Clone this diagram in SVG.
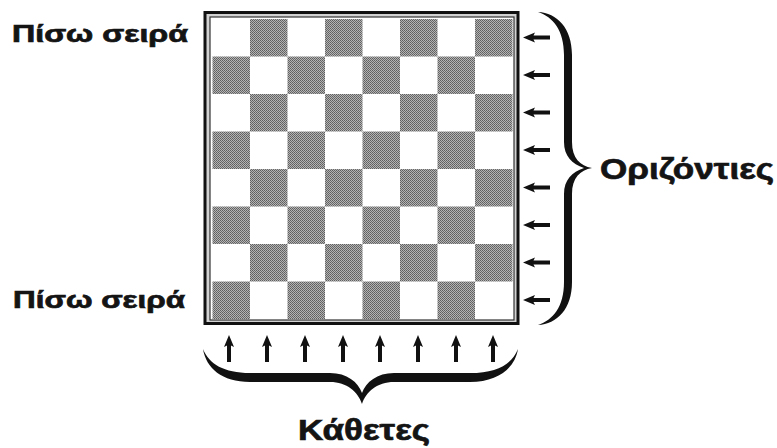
<svg xmlns="http://www.w3.org/2000/svg" width="777" height="448" viewBox="0 0 777 448">
  <style>
    .lbl { font-family: "Liberation Sans", Arial, sans-serif; font-weight: bold; fill: #141414; stroke: #141414; stroke-width: 0.7; }
    .dark { fill: url(#halftone); }
    .brace { fill: #111; }
    .arrow { fill: #111; }
  </style>
  <defs>
    <pattern id="halftone" x="0" y="0" width="2" height="2" patternUnits="userSpaceOnUse">
      <rect width="2" height="2" fill="#b4b4b4"/>
      <rect width="1" height="1" fill="#5e5e5e"/>
      <rect x="1" y="1" width="1" height="1" fill="#6a6a6a"/>
    </pattern>
    <path id="arrUp" d="M0,0 L-5,12 L-2,10.5 L-2,27 L2,27 L2,10.5 L5,12 Z"/>
  </defs>
  <rect width="777" height="448" fill="#fff"/>

  <g id="board">
    <rect x="205" y="12.5" width="313" height="311" fill="#d2d2d2" stroke="#111" stroke-width="3"/>
    <rect x="210" y="17" width="304" height="303" fill="#fff" stroke="#333" stroke-width="1.2"/>
    <g class="dark">
      <rect x="250" y="19" width="37.5" height="37.5"/><rect x="325" y="19" width="37.5" height="37.5"/><rect x="400" y="19" width="37.5" height="37.5"/><rect x="475" y="19" width="37.5" height="37.5"/>
      <rect x="212.5" y="56.5" width="37.5" height="37.5"/><rect x="287.5" y="56.5" width="37.5" height="37.5"/><rect x="362.5" y="56.5" width="37.5" height="37.5"/><rect x="437.5" y="56.5" width="37.5" height="37.5"/>
      <rect x="250" y="94" width="37.5" height="37.5"/><rect x="325" y="94" width="37.5" height="37.5"/><rect x="400" y="94" width="37.5" height="37.5"/><rect x="475" y="94" width="37.5" height="37.5"/>
      <rect x="212.5" y="131.5" width="37.5" height="37.5"/><rect x="287.5" y="131.5" width="37.5" height="37.5"/><rect x="362.5" y="131.5" width="37.5" height="37.5"/><rect x="437.5" y="131.5" width="37.5" height="37.5"/>
      <rect x="250" y="169" width="37.5" height="37.5"/><rect x="325" y="169" width="37.5" height="37.5"/><rect x="400" y="169" width="37.5" height="37.5"/><rect x="475" y="169" width="37.5" height="37.5"/>
      <rect x="212.5" y="206.5" width="37.5" height="37.5"/><rect x="287.5" y="206.5" width="37.5" height="37.5"/><rect x="362.5" y="206.5" width="37.5" height="37.5"/><rect x="437.5" y="206.5" width="37.5" height="37.5"/>
      <rect x="250" y="244" width="37.5" height="37.5"/><rect x="325" y="244" width="37.5" height="37.5"/><rect x="400" y="244" width="37.5" height="37.5"/><rect x="475" y="244" width="37.5" height="37.5"/>
      <rect x="212.5" y="281.5" width="37.5" height="37.5"/><rect x="287.5" y="281.5" width="37.5" height="37.5"/><rect x="362.5" y="281.5" width="37.5" height="37.5"/><rect x="437.5" y="281.5" width="37.5" height="37.5"/>
    </g>
  </g>

  <g id="label-back-top">
    <text class="lbl" x="12" y="42" font-size="23" textLength="176" lengthAdjust="spacingAndGlyphs">Πίσω σειρά</text>
  </g>
  <g id="label-back-bottom">
    <text class="lbl" x="13" y="308" font-size="23" textLength="172" lengthAdjust="spacingAndGlyphs">Πίσω σειρά</text>
  </g>
  <g id="label-ranks">
    <text class="lbl" x="600" y="179" font-size="30" textLength="174" lengthAdjust="spacingAndGlyphs">Οριζόντιες</text>
  </g>
  <g id="label-files">
    <text class="lbl" x="298" y="440" font-size="30" textLength="132" lengthAdjust="spacingAndGlyphs">Κάθετες</text>
  </g>

  <g id="connectors">
    <g class="arrow">
      <use href="#arrUp" transform="translate(523,37.5) rotate(-90)"/>
      <use href="#arrUp" transform="translate(523,75) rotate(-90)"/>
      <use href="#arrUp" transform="translate(523,112.5) rotate(-90)"/>
      <use href="#arrUp" transform="translate(523,150) rotate(-90)"/>
      <use href="#arrUp" transform="translate(523,187.5) rotate(-90)"/>
      <use href="#arrUp" transform="translate(523,225) rotate(-90)"/>
      <use href="#arrUp" transform="translate(523,262.5) rotate(-90)"/>
      <use href="#arrUp" transform="translate(523,300) rotate(-90)"/>
      <use href="#arrUp" transform="translate(229,335)"/>
      <use href="#arrUp" transform="translate(267,335)"/>
      <use href="#arrUp" transform="translate(305,335)"/>
      <use href="#arrUp" transform="translate(343,335)"/>
      <use href="#arrUp" transform="translate(380,335)"/>
      <use href="#arrUp" transform="translate(418,335)"/>
      <use href="#arrUp" transform="translate(456,335)"/>
      <use href="#arrUp" transform="translate(493,335)"/>
    </g>
    <path class="brace" d="M538,12 C557,13 572,28 572,55 L572,142 C572,158 580,166 592,168 C580,170 572,178 572,194 L572,282 C572,309 557,324 538,325 C553,320 564,307 564,282 L564,194 C564,180 572,172 584,168 C572,164 564,156 564,142 L564,55 C564,30 553,17 538,12 Z"/>
    <path class="brace" d="M203,349 C206,368 222,382 250,382 L330,382 C347,382 358,392 362,404 C366,392 377,382 394,382 L470,382 C498,382 515,368 518,349 C512,364 497,373 470,373 L394,373 C377,373 366,382 362,393 C358,382 347,373 330,373 L250,373 C224,373 209,364 203,349 Z"/>
  </g>
</svg>
